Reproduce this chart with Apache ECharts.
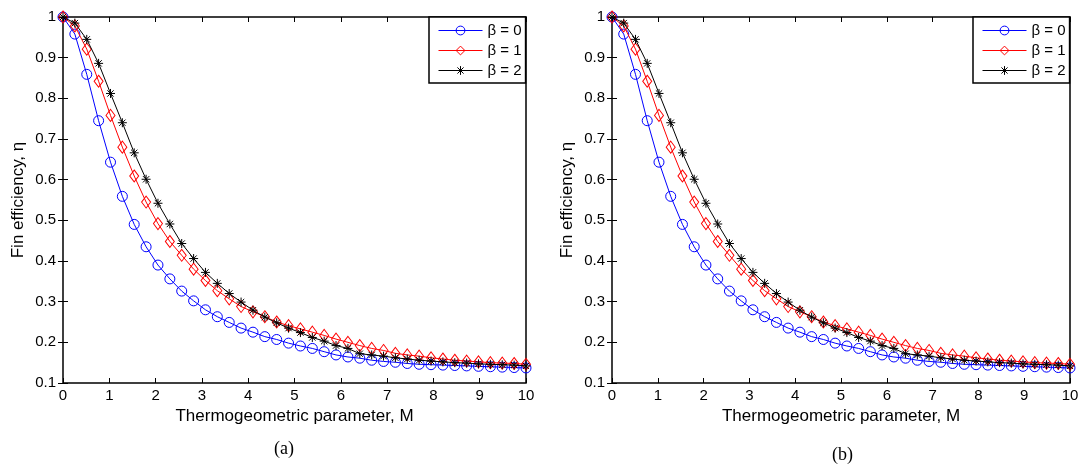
<!DOCTYPE html>
<html>
<head>
<meta charset="utf-8">
<script src="https://cdn.jsdelivr.net/npm/echarts@6/dist/echarts.min.js"></script>
<style>
html,body{margin:0;padding:0;background:#fff;}
#c{width:1088px;height:466px;}
</style>
</head>
<body>
<div id="c"></div>
<script>
// Thermogeometric parameter M (x positions of the computed points)
const mValues = [0, 0.256, 0.513, 0.769, 1.026, 1.282, 1.538, 1.795, 2.051, 2.308,
  2.564, 2.821, 3.077, 3.333, 3.590, 3.846, 4.103, 4.359, 4.615, 4.872,
  5.128, 5.385, 5.641, 5.897, 6.154, 6.410, 6.667, 6.923, 7.179, 7.436,
  7.692, 7.949, 8.205, 8.462, 8.718, 8.974, 9.231, 9.487, 9.744, 10];

// Fin efficiency, beta = 0
const etaBeta0 = [1.0, 0.958, 0.859, 0.745, 0.643, 0.559, 0.490, 0.435, 0.390, 0.356,
  0.326, 0.302, 0.280, 0.263, 0.249, 0.235, 0.225, 0.214, 0.207, 0.198,
  0.191, 0.185, 0.177, 0.169, 0.164, 0.161, 0.156, 0.153, 0.151, 0.148,
  0.146, 0.145, 0.144, 0.143, 0.142, 0.141, 0.140, 0.139, 0.138, 0.137];

// Fin efficiency, beta = 1
const etaBeta1 = [1.0, 0.978, 0.921, 0.842, 0.758, 0.680, 0.609, 0.545, 0.492, 0.448,
  0.414, 0.380, 0.352, 0.327, 0.307, 0.288, 0.275, 0.263, 0.250, 0.241,
  0.233, 0.225, 0.217, 0.208, 0.200, 0.192, 0.185, 0.180, 0.173, 0.169,
  0.166, 0.162, 0.159, 0.156, 0.154, 0.152, 0.150, 0.149, 0.148, 0.146];

// Fin efficiency, beta = 2
const etaBeta2 = [1.0, 0.985, 0.945, 0.886, 0.812, 0.740, 0.666, 0.601, 0.542, 0.491,
  0.443, 0.406, 0.372, 0.345, 0.320, 0.299, 0.279, 0.262, 0.248, 0.235,
  0.224, 0.212, 0.203, 0.192, 0.185, 0.172, 0.169, 0.166, 0.162, 0.159,
  0.156, 0.154, 0.152, 0.150, 0.149, 0.147, 0.146, 0.145, 0.144, 0.142];

const seriesNames = ['β = 0', 'β = 1', 'β = 2'];
const panelLabels = ['(a)', '(b)'];
const xTitle = 'Thermogeometric parameter, M';
const yTitle = 'Fin efficiency, η';

const SANS = '"Liberation Sans", Arial, sans-serif';
const SERIF = '"Liberation Serif", "Times New Roman", serif';

const grids = [
  {left: 63, top: 17, width: 463, height: 366},
  {left: 612, top: 17, width: 458, height: 366}
];

const starPath = 'path://M0,-5L0,5M-5,0L5,0M-3.5,-3.5L3.5,3.5M-3.5,3.5L3.5,-3.5';

const styles = [
  {color: '#0000ff', symbol: 'circle', size: 10, data: etaBeta0},
  {color: '#ff0000', symbol: 'diamond', size: [9, 12], data: etaBeta1},
  {color: '#000000', symbol: starPath, size: 9, data: etaBeta2}
];

const xAxes = [], yAxes = [], series = [], legends = [], graphics = [];
const fmt = v => String(+(+v).toFixed(1));

grids.forEach((g, gi) => {
  const base = {
    type: 'value', min: 0, max: 10, interval: 1, gridIndex: gi,
    axisLine: {show: false},
    axisTick: {show: true, inside: true, length: 5, lineStyle: {color: '#000', width: 1}},
    splitLine: {show: false}
  };
  xAxes.push(Object.assign({}, base, {
    position: 'bottom',
    name: xTitle, nameLocation: 'middle', nameGap: 25,
    nameTextStyle: {color: '#000', fontFamily: SANS, fontSize: 17},
    axisLabel: {color: '#000', fontFamily: SANS, fontSize: 15, margin: 5}
  }));
  xAxes.push(Object.assign({}, base, {position: 'top', axisLabel: {show: false}}));
  const ybase = {
    type: 'value', min: 0.1, max: 1, interval: 0.1, gridIndex: gi,
    axisLine: {show: false},
    axisTick: {show: true, inside: true, length: 5, lineStyle: {color: '#000', width: 1}},
    splitLine: {show: false}
  };
  yAxes.push(Object.assign({}, ybase, {
    position: 'left',
    name: yTitle, nameLocation: 'middle', nameGap: 36,
    nameTextStyle: {color: '#000', fontFamily: SANS, fontSize: 17},
    axisLabel: {color: '#000', fontFamily: SANS, fontSize: 15, margin: 7, formatter: fmt}
  }));
  yAxes.push(Object.assign({}, ybase, {position: 'right', axisLabel: {show: false}}));

  styles.forEach((s, si) => {
    series.push({
      type: 'line', name: seriesNames[si],
      xAxisIndex: gi * 2, yAxisIndex: gi * 2,
      data: mValues.map((m, i) => [m, s.data[i]]),
      symbol: s.symbol, symbolSize: s.size, showAllSymbol: true,
      color: s.color,
      lineStyle: {color: s.color, width: 1},
      itemStyle: {color: si === 2 ? '#000' : 'rgba(255,255,255,0)', borderColor: s.color, borderWidth: 1},
      emphasis: {disabled: true},
      animation: false, z: 2 + si
    });
  });

  legends.push({
    data: seriesNames,
    orient: 'vertical',
    left: g.left + g.width - 97, top: g.top,
    itemWidth: 44, itemHeight: 11, itemGap: 5,
    padding: [6, 4, 5, 9],
    backgroundColor: '#fff',
    borderColor: '#000', borderWidth: 1.5, borderRadius: 0,
    lineStyle: {width: 1},
    itemStyle: {borderWidth: 1},
    textStyle: {color: '#000', fontFamily: SANS, fontSize: 15, padding: [0, 0, 0, 0]},
    selectedMode: false
  });

  graphics.push({
    type: 'text',
    left: gi === 0 ? 274 : 832,
    top: gi === 0 ? 440 : 446,
    style: {text: panelLabels[gi], font: '18px ' + SERIF, fill: '#000'}
  });
});

const chart = echarts.init(document.getElementById('c'), null, {renderer: 'canvas'});
chart.setOption({
  backgroundColor: '#fff',
  animation: false,
  grid: grids.map(g => Object.assign({show: true, borderColor: '#000', borderWidth: 1.5, backgroundColor: 'transparent'}, g)),
  xAxis: xAxes,
  yAxis: yAxes,
  legend: legends,
  series: series,
  graphic: graphics
});
</script>
</body>
</html>
